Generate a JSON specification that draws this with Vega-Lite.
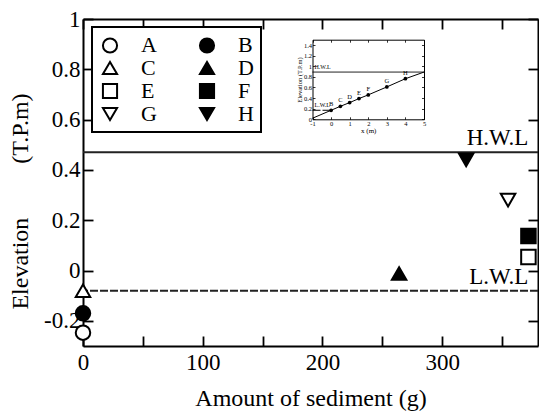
{
  "$schema": "https://vega.github.io/schema/vega-lite/v6.json",
  "width": 455,
  "height": 327,
  "autosize": {"type": "none"},
  "padding": {"left": 83, "top": 19, "right": 1, "bottom": 66},
  "background": "white",
  "config": {
    "font": "Liberation Serif",
    "view": {"stroke": null},
    "axis": {
      "grid": false,
      "domainColor": "black",
      "domainWidth": 2,
      "tickColor": "black",
      "tickWidth": 1.8,
      "labelColor": "black",
      "labelFont": "Liberation Serif",
      "labelFontSize": 23,
      "titleFont": "Liberation Serif",
      "titleFontSize": 24,
      "titleFontWeight": "normal",
      "titleColor": "black",
      "labelFlush": false,
      "labelOverlap": false
    },
    "legend": {"strokeWidth": 2}
  },
  "datasets": {
    "stations": [
      {"station": "A", "sediment": 0, "elevation": -0.247},
      {"station": "B", "sediment": 0, "elevation": -0.17},
      {"station": "C", "sediment": 0, "elevation": -0.08},
      {"station": "D", "sediment": 264, "elevation": -0.012},
      {"station": "E", "sediment": 372, "elevation": 0.054},
      {"station": "F", "sediment": 372, "elevation": 0.137},
      {"station": "G", "sediment": 355, "elevation": 0.28},
      {"station": "H", "sediment": 320, "elevation": 0.44}
    ],
    "waterLevels": [
      {"level": "H.W.L", "elevation": 0.47},
      {"level": "L.W.L", "elevation": -0.08}
    ],
    "profile": [
      {"x": -1, "z": 0.02},
      {"x": 0, "z": 0.17},
      {"x": 0.5, "z": 0.245},
      {"x": 1, "z": 0.315},
      {"x": 1.5, "z": 0.39},
      {"x": 2, "z": 0.46},
      {"x": 3, "z": 0.61},
      {"x": 4, "z": 0.765},
      {"x": 5, "z": 0.89}
    ],
    "profileStations": [
      {"station": "B", "x": 0, "z": 0.17},
      {"station": "C", "x": 0.5, "z": 0.245},
      {"station": "D", "x": 1, "z": 0.315},
      {"station": "E", "x": 1.5, "z": 0.39},
      {"station": "F", "x": 2, "z": 0.46},
      {"station": "G", "x": 3, "z": 0.61},
      {"station": "H", "x": 4, "z": 0.765}
    ],
    "profileLevels": [
      {"level": "H.W.L", "z": 0.89, "from": -1, "to": 5},
      {"level": "L.W.L", "z": 0.17, "from": -1, "to": 0}
    ]
  },
  "layer": [
    {
      "layer": [
        {
          "data": {"name": "waterLevels"},
          "mark": {"type": "rule", "strokeWidth": 2, "color": "#222"},
          "encoding": {
            "y": {
              "field": "elevation", "type": "quantitative",
              "scale": {"domain": [-0.3, 1], "nice": false, "zero": false},
              "axis": {"orient": "right", "labels": false, "title": null, "values": [-0.2, 0, 0.2, 0.4, 0.6, 0.8, 1], "tickSize": -10}
            },
            "strokeDash": {
              "field": "level", "type": "nominal",
              "scale": {"domain": ["H.W.L", "L.W.L"], "range": [[1, 0], [8, 2]]},
              "legend": null
            }
          }
        },
        {
          "data": {"name": "waterLevels"},
          "mark": {"type": "text", "align": "right", "baseline": "alphabetic", "dy": -7, "fontSize": 23, "color": "black"},
          "encoding": {
            "text": {"field": "level"},
            "x": {
              "datum": 372, "type": "quantitative",
              "scale": {"domain": [0, 380], "nice": false, "zero": false},
              "axis": {
                "orient": "top", "labels": false, "title": null,
                "values": [0, 50, 100, 150, 200, 250, 300, 350], "tickSize": -10,
                "encode": {"ticks": {"y2": {"condition": {"test": "datum.value % 100 === 0", "value": 10}, "value": 5}}}
              }
            },
            "y": {
              "field": "elevation", "type": "quantitative",
              "scale": {"domain": [-0.3, 1], "nice": false, "zero": false},
              "axis": null
            }
          }
        },
        {
          "data": {"name": "stations"},
          "mark": {"type": "point", "filled": true, "stroke": "black", "strokeWidth": 2, "opacity": 1, "size": 210},
          "encoding": {
            "x": {
              "field": "sediment", "type": "quantitative",
              "scale": {"domain": [0, 380], "nice": false, "zero": false},
              "axis": {
                "orient": "bottom", "title": "Amount of sediment (g)",
                "values": [0, 50, 100, 150, 200, 250, 300, 350],
                "labelExpr": "datum.value % 100 === 0 ? format(datum.value, 'd') : ''",
                "tickSize": -10, "labelBaseline": "alphabetic", "labelPadding": 33,
                "titleBaseline": "alphabetic", "titleY": 59,
                "encode": {"ticks": {"y2": {"condition": {"test": "datum.value % 100 === 0", "value": -10}, "value": -5}}}
              }
            },
            "y": {
              "field": "elevation", "type": "quantitative",
              "scale": {"domain": [-0.3, 1], "nice": false, "zero": false},
              "axis": {
                "orient": "left", "title": "Elevation\u00a0\u00a0\u00a0\u00a0\u00a0\u00a0\u00a0\u00a0\u00a0(T.P.m)",
                "values": [-0.2, 0, 0.2, 0.4, 0.6, 0.8, 1],
                "labelExpr": "(datum.value < 0 ? '-' : '') + format(abs(datum.value), '~g')",
                "tickSize": -10, "labelPadding": 13,
                "titleBaseline": "middle", "titleX": -63, "titleY": 182
              }
            },
            "fill": {
              "field": "station", "type": "nominal",
              "scale": {"domain": ["A", "B", "C", "D", "E", "F", "G", "H"], "range": ["white", "black", "white", "black", "white", "black", "white", "black"]},
              "legend": {
                "orient": "none", "legendX": 9, "legendY": 8, "columns": 2, "direction": "horizontal", "title": null,
                "padding": 7, "strokeColor": "black", "fillColor": "white",
                "labelFontSize": 22, "labelFont": "Liberation Serif", "labelColor": "black",
                "labelOffset": 20, "columnPadding": 38, "rowPadding": 0,
                "symbolStrokeColor": "black", "symbolStrokeWidth": 2, "symbolSize": 200,
                "labelExpr": "indexof(['B','D','F','H'], datum.label) >= 0 ? datum.label + '\u00a0\u00a0\u00a0\u00a0' : datum.label"
              }
            },
            "shape": {
              "field": "station", "type": "nominal",
              "scale": {"domain": ["A", "B", "C", "D", "E", "F", "G", "H"], "range": ["circle", "circle", "triangle-up", "triangle-up", "square", "square", "triangle-down", "triangle-down"]}
            }
          }
        }
      ],
      "resolve": {"axis": {"x": "independent", "y": "independent"}}
    },
    {
      "layer": [
        {
          "data": {"name": "profile"},
          "mark": {"type": "line", "color": "black", "strokeWidth": 1},
          "encoding": {
            "x": {
              "field": "x", "type": "quantitative",
              "scale": {"domain": [-1, 5], "range": [229.5, 341], "nice": false, "zero": false},
              "axis": {
                "orient": "bottom", "offset": -226.7, "values": [-1, 0, 1, 2, 3, 4, 5],
                "labelExpr": "(datum.value < 0 ? '-' : '') + format(abs(datum.value), '~g')",
                "tickSize": -2.5, "tickWidth": 0.8, "domainWidth": 1, "labelPadding": 3.5,
                "labelFontSize": 6.5, "title": "x (m)", "titleFontSize": 7,
                "titleBaseline": "middle", "titleY": 11
              }
            },
            "y": {
              "field": "z", "type": "quantitative",
              "scale": {"domain": [0, 1.5], "range": [100.3, 20.7], "nice": false, "zero": false},
              "axis": {
                "orient": "left", "offset": -229.5, "values": [0, 0.2, 0.4, 0.6, 0.8, 1, 1.2, 1.4],
                "labelExpr": "format(datum.value, '~g')",
                "tickSize": -2.5, "tickWidth": 0.8, "domainWidth": 1, "labelPadding": 3.5,
                "labelFontSize": 6.5, "title": "Elevation (T.P.m)", "titleFontSize": 6.5,
                "titleBaseline": "middle", "titleX": -13.5
              }
            }
          }
        },
        {
          "data": {"name": "profileLevels"},
          "mark": {"type": "rule", "color": "black", "strokeWidth": 1},
          "encoding": {
            "x": {
              "field": "from", "type": "quantitative",
              "scale": {"domain": [-1, 5], "range": [229.5, 341], "nice": false, "zero": false},
              "axis": {"orient": "top", "offset": -20.7, "labels": false, "title": null, "values": [-1, 0, 1, 2, 3, 4, 5], "tickSize": -2.5, "tickWidth": 0.8, "domainWidth": 1}
            },
            "x2": {"field": "to"},
            "y": {
              "field": "z", "type": "quantitative",
              "scale": {"domain": [0, 1.5], "range": [100.3, 20.7], "nice": false, "zero": false},
              "axis": {"orient": "right", "offset": -114, "labels": false, "title": null, "values": [0, 0.2, 0.4, 0.6, 0.8, 1, 1.2, 1.4], "tickSize": -2.5, "tickWidth": 0.8, "domainWidth": 1}
            },
            "strokeDash": {
              "field": "level", "type": "nominal",
              "scale": {"domain": ["H.W.L", "L.W.L"], "range": [[5, 1.5, 1, 1.5], [1, 0]]},
              "legend": null
            }
          }
        },
        {
          "data": {"name": "profileLevels"},
          "mark": {"type": "text", "align": "left", "baseline": "alphabetic", "dx": 2, "dy": -3, "fontSize": 6, "color": "black"},
          "encoding": {
            "text": {"field": "level"},
            "x": {"field": "from", "type": "quantitative", "scale": {"domain": [-1, 5], "range": [229.5, 341], "nice": false, "zero": false}, "axis": null},
            "y": {"field": "z", "type": "quantitative", "scale": {"domain": [0, 1.5], "range": [100.3, 20.7], "nice": false, "zero": false}, "axis": null}
          }
        },
        {
          "data": {"name": "profileStations"},
          "mark": {"type": "point", "filled": true, "color": "black", "opacity": 1, "size": 14},
          "encoding": {
            "x": {"field": "x", "type": "quantitative", "scale": {"domain": [-1, 5], "range": [229.5, 341], "nice": false, "zero": false}, "axis": null},
            "y": {"field": "z", "type": "quantitative", "scale": {"domain": [0, 1.5], "range": [100.3, 20.7], "nice": false, "zero": false}, "axis": null}
          }
        },
        {
          "data": {"name": "profileStations"},
          "mark": {"type": "text", "align": "center", "baseline": "alphabetic", "dy": -4, "fontSize": 6.5, "color": "black"},
          "encoding": {
            "text": {"field": "station"},
            "x": {"field": "x", "type": "quantitative", "scale": {"domain": [-1, 5], "range": [229.5, 341], "nice": false, "zero": false}, "axis": null},
            "y": {"field": "z", "type": "quantitative", "scale": {"domain": [0, 1.5], "range": [100.3, 20.7], "nice": false, "zero": false}, "axis": null}
          }
        }
      ],
      "resolve": {"axis": {"x": "independent", "y": "independent"}}
    }
  ],
  "resolve": {"scale": {"x": "independent", "y": "independent"}}
}
